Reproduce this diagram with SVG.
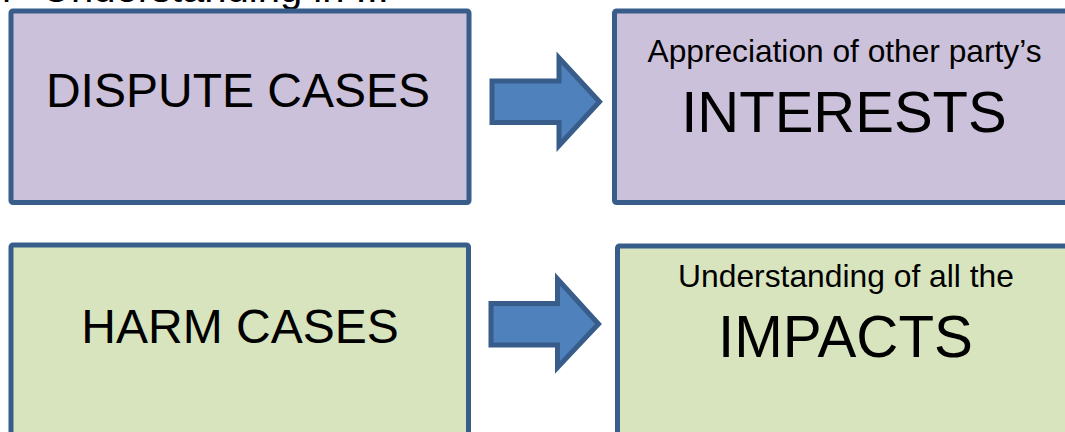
<svg xmlns="http://www.w3.org/2000/svg" width="1065" height="432" viewBox="0 0 1065 432">
<style>
text{font-family:"Liberation Sans",Arial,sans-serif;fill:#000;text-anchor:middle}
.box{stroke:#385d8a;stroke-width:5}
.purple{fill:#ccc1da}
.green{fill:#d7e4bd}
.arrow{fill:#4f81bd;stroke:#385d8a;stroke-width:5;stroke-linejoin:miter}
</style>
<rect width="1065" height="432" fill="#fff"/>
<text y="2" font-size="40" style="text-anchor:start"><tspan x="2">r</tspan><tspan x="42">Understanding in ...</tspan></text>
<g id="dispute-cases">
<rect class="box purple" x="11" y="11" width="458" height="191.5" rx="2"/>
<text x="238" y="107" font-size="48">DISPUTE CASES</text>
</g>
<g id="interests">
<rect class="box purple" x="614.5" y="11" width="480" height="191.5" rx="2"/>
<text x="844.5" y="62" font-size="31.7">Appreciation of other party’s</text>
<text x="844" y="132" font-size="58">INTERESTS</text>
</g>
<g id="harm-cases">
<rect class="box green" x="11" y="245" width="457.5" height="220" rx="2"/>
<text x="240" y="343" font-size="48">HARM CASES</text>
</g>
<g id="impacts">
<rect class="box green" x="617.5" y="246" width="480" height="220" rx="2"/>
<text x="846" y="287" font-size="31.8">Understanding of all the</text>
<text x="845.5" y="357" font-size="58.3">IMPACTS</text>
</g>
<g id="connectors">
<polygon class="arrow" points="492,81 559,81 559,58 599.5,101.7 559,145.5 559,122.5 492,122.5"/>
<polygon class="arrow" points="491,303.5 557.5,303.5 557.5,279 598.5,324 557.5,367.5 557.5,345 491,345"/>
</g>
</svg>
